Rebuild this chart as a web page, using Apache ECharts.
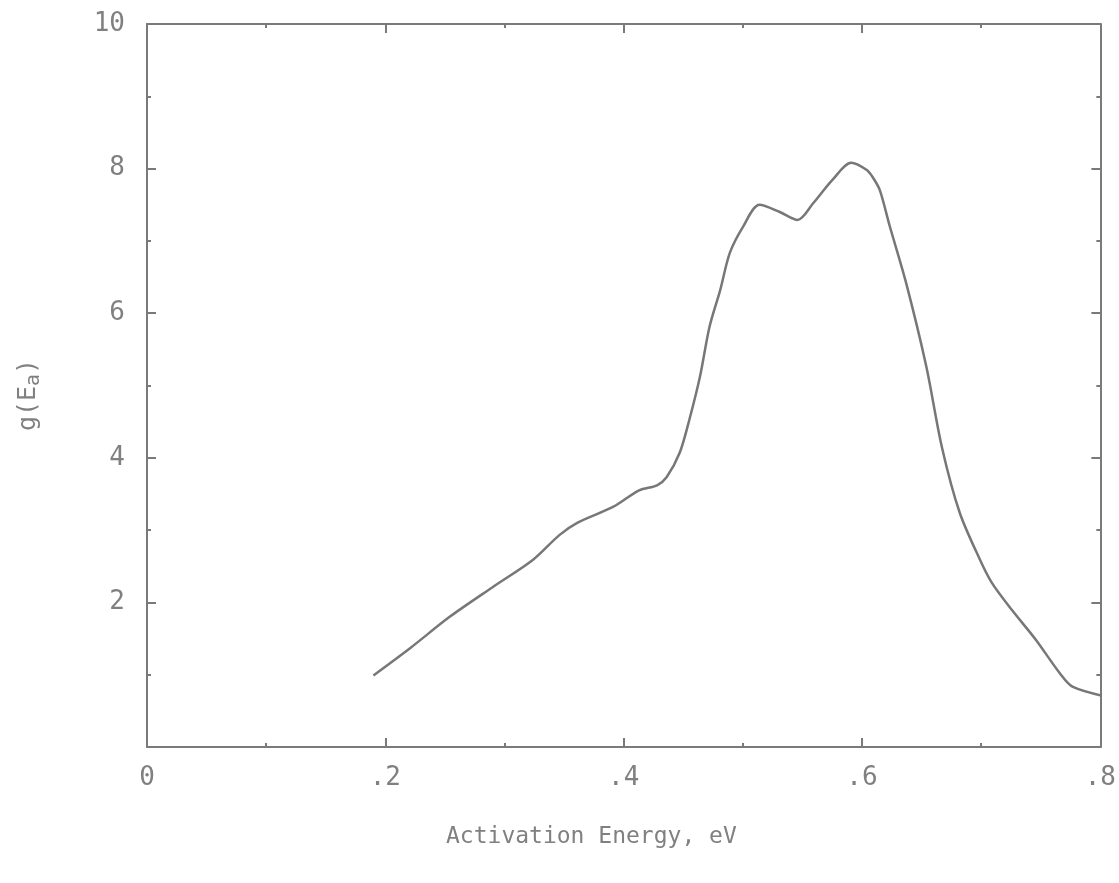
<!DOCTYPE html>
<html>
<head>
<meta charset="utf-8">
<script src="https://cdn.jsdelivr.net/npm/echarts@6/dist/echarts.min.js"></script>
<style>
html,body{margin:0;padding:0;background:#fff;}
#c{width:1119px;height:883px;}
</style>
</head>
<body>
<div id="c"></div>
<script>
// Activation energy (eV)
var energy = [0.190, 0.221, 0.254, 0.290, 0.324, 0.346, 0.361, 0.391, 0.413, 0.428,
              0.436, 0.447, 0.455, 0.464, 0.472, 0.481, 0.489, 0.500, 0.514, 0.531,
              0.546, 0.559, 0.575, 0.591, 0.604, 0.609, 0.615, 0.623, 0.637, 0.654,
              0.667, 0.682, 0.699, 0.709, 0.726, 0.746, 0.766, 0.777, 0.807];
// g(Ea)
var gE = [0.99, 1.37, 1.80, 2.21, 2.59, 2.93, 3.10, 3.32, 3.55, 3.62,
          3.73, 4.07, 4.52, 5.12, 5.81, 6.32, 6.83, 7.19, 7.50, 7.40,
          7.29, 7.52, 7.84, 8.08, 7.98, 7.88, 7.70, 7.22, 6.42, 5.26,
          4.15, 3.24, 2.59, 2.27, 1.89, 1.48, 1.02, 0.83, 0.69];
var xTickLabels = {'0':'0','0.2':'.2','0.4':'.4','0.6':'.6','0.8':'.8'};
var yTickLabels = {'2':'2','4':'4','6':'6','8':'8','10':'10'};

var seriesData = energy.map(function(e, i){ return [e, gE[i]]; });

var axisColor = '#7a7a7a';
var textColor = '#808080';
var mono = '"DejaVu Sans Mono", "Liberation Mono", monospace';

function xAx(pos, show) {
  return {
    type: 'value', position: pos, min: 0, max: 0.8, interval: 0.2,
    axisLine: {show: true, onZero: false, lineStyle: {color: axisColor, width: 2}},
    axisTick: {show: true, inside: true, length: 9, lineStyle: {color: axisColor, width: 2}},
    minorTick: {show: true, splitNumber: 2, length: 4, lineStyle: {color: axisColor, width: 2}},
    splitLine: {show: false},
    axisLabel: {show: show, margin: 18, color: textColor, fontFamily: mono, fontSize: 26,
      formatter: function(v){ var k = String(Math.round(v*10)/10); return xTickLabels[k] !== undefined ? xTickLabels[k] : ''; }}
  };
}
function yAx(pos, show) {
  return {
    type: 'value', position: pos, min: 0, max: 10, interval: 2,
    axisLine: {show: true, onZero: false, lineStyle: {color: axisColor, width: 2}},
    axisTick: {show: true, inside: true, length: 9, lineStyle: {color: axisColor, width: 2}},
    minorTick: {show: true, splitNumber: 2, length: 4, lineStyle: {color: axisColor, width: 2}},
    splitLine: {show: false},
    axisLabel: {show: show, margin: 22, color: textColor, fontFamily: mono, fontSize: 26,
      formatter: function(v){ var k = String(Math.round(v)); return yTickLabels[k] !== undefined ? yTickLabels[k] : ''; }}
  };
}

var chart = echarts.init(document.getElementById('c'), null, {renderer: 'canvas'});
chart.setOption({
  animation: false,
  backgroundColor: '#ffffff',
  grid: {left: 147, right: 17, top: 24, bottom: 136, containLabel: false},
  xAxis: [xAx('bottom', true), xAx('top', false)],
  yAxis: [yAx('left', true), yAx('right', false)],
  graphic: [
    {type: 'text', left: 446, top: 826,
     style: {text: 'Activation Energy, eV', fill: textColor, font: '23px ' + mono}},
    {type: 'text', x: 28, y: 395, rotation: Math.PI/2, originX: 0, originY: 0,
     style: {
       text: '{n|g(E}{s|a}{n|)}', align: 'center', verticalAlign: 'middle',
       rich: {
         n: {fill: textColor, fontFamily: mono, fontSize: 25},
         s: {fill: textColor, fontFamily: mono, fontSize: 20, verticalAlign: 'bottom', padding: [12,0,0,0]}
       }
     }}
  ],
  series: [{
    type: 'line', xAxisIndex: 0, yAxisIndex: 0,
    data: seriesData, showSymbol: false, smooth: 0.3, clip: false,
    lineStyle: {color: '#777777', width: 2.5}
  }]
});
</script>
</body>
</html>
